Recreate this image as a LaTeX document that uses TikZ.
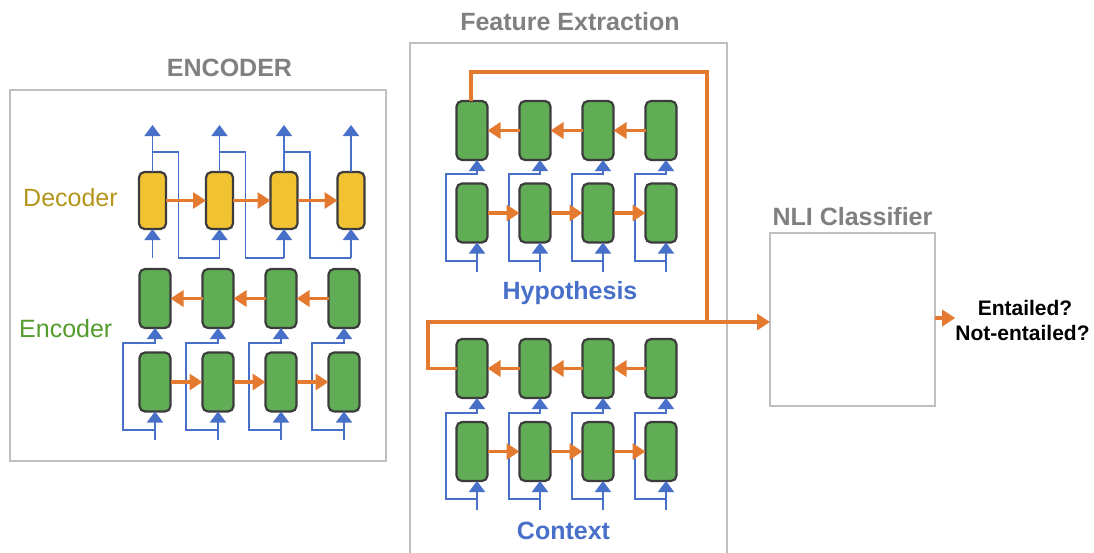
\documentclass[tikz,border=0pt]{standalone}
\usepackage{fontspec}
\setmainfont{Liberation Sans}
\usetikzlibrary{arrows.meta}
\definecolor{cgreen}{RGB}{96,173,86}
\definecolor{cyellow}{RGB}{241,194,50}
\definecolor{cborder}{RGB}{60,60,60}
\definecolor{corange}{RGB}{228,122,47}
\definecolor{cblue}{RGB}{72,112,200}
\definecolor{cgray}{RGB}{128,128,128}
\definecolor{cbox}{RGB}{191,191,191}
\definecolor{cgold}{RGB}{181,149,27}
\definecolor{cgreentxt}{RGB}{84,156,44}
\begin{document}
\begin{tikzpicture}[x=1pt,y=-1pt,
  cellg/.style={draw=cborder, line width=2.2pt, fill=cgreen, rounded corners=5.5pt,
    minimum width=31pt, minimum height=59pt, inner sep=0pt, outer sep=0pt},
  celly/.style={cellg, fill=cyellow, minimum width=27pt, minimum height=57pt},
  oarr/.style={draw=corange, line width=3.8pt, -{Triangle[width=16pt,length=13pt]}},
  oline/.style={draw=corange, line width=3.8pt},
  barr/.style={draw=cblue, line width=1.7pt, -{Triangle[width=16pt,length=11pt]}},
  frame/.style={draw=cbox, line width=1.5pt, inner sep=0pt, outer sep=0pt},
  title/.style={font=\fontsize{25}{30}\selectfont\bfseries, text=cgray, anchor=base, inner sep=0pt},
  lbl/.style={font=\fontsize{25}{30}\selectfont, anchor=base west, inner sep=0pt},
  sect/.style={font=\fontsize{25}{30}\selectfont\bfseries, text=cblue, anchor=base, inner sep=0pt},
  outt/.style={font=\fontsize{21}{25}\selectfont\bfseries, text=black, anchor=base, inner sep=0pt}
]
\useasboundingbox (0,0) rectangle (1094,552);
\clip (0,0) rectangle (1094,552);
\fill[white] (0,0) rectangle (1094,552);

% ---------------- frames and titles
\node[frame, minimum width=376pt, minimum height=371pt] (encbox) at (198,275.5) {};
\draw[frame] (410,560) -- (410,43) -- (727,43) -- (727,560);
\node[frame, minimum width=165pt, minimum height=173pt] (nli) at (852.5,319.5) {};

\node[title] (tenc) at (229.5,76) {ENCODER};
\node[title] (tfe) at (570,30) {Feature Extraction};
\node[title] (tnli) at (852.5,225) {NLI Classifier};

\node[lbl, text=cgold] (ldec) at (23,206) {Decoder};
\node[lbl, text=cgreentxt] (lenc) at (19,337) {Encoder};

\node[sect] (lhyp) at (570,299) {Hypothesis};
\node[sect] (lctx) at (563.5,539) {Context};

\node[outt] (out1) at (1025,315) {Entailed?};
\node[outt] (out2) at (1022.5,340) {Not-entailed?};

% ---------------- decoder
\foreach \i/\x in {1/152.5,2/219.5,3/284,4/351} {
  \node[celly] (d\i) at (\x,200.5) {};
  \coordinate (dout\i) at (\x,125);
  \coordinate (din\i) at (\x,258);
}
\foreach \i in {1,...,4} {
  \draw[barr] (d\i.north) -- (dout\i);
  \draw[barr] (din\i) -- (d\i.south);
}
\foreach \i/\j/\x in {1/2/152.5,2/3/219.5,3/4/284} {
  \coordinate (fb\i) at (\x,152);
  \draw[draw=cblue, line width=1.7pt] (fb\i) -- (\x+26,152) -- (\x+26,258) -- (din\j);
}
\foreach \i/\j in {1/2,2/3,3/4}
  \draw[oarr] (d\i.east) -- (d\j.west);

% ---------------- encoder
\foreach \i/\x in {1/155,2/218,3/281,4/344} {
  \node[cellg] (et\i) at (\x,298.5) {};
  \node[cellg] (eb\i) at (\x,382) {};
  \coordinate (ein\i) at (\x,440);
  \coordinate (esp\i) at (\x,430);
  \draw[barr] (ein\i) -- (eb\i.south);
  \draw[barr] (esp\i) -- (\x-32,430) -- (\x-32,343) -| (et\i.south);
}
\foreach \i/\j in {1/2,2/3,3/4} {
  \draw[oarr] (eb\i.east) -- (eb\j.west);
  \draw[oarr] (et\j.west) -- (et\i.east);
}

% ---------------- hypothesis
\foreach \i/\x in {1/472,2/535,3/598,4/661} {
  \node[cellg] (ht\i) at (\x,130.5) {};
  \node[cellg] (hb\i) at (\x,213) {};
  \coordinate (hin\i) at (\x+5,272);
  \coordinate (hsp\i) at (\x+5,261);
  \draw[barr] (hin\i) -- ([xshift=5pt]hb\i.south);
  \draw[barr] (hsp\i) -- (\x-26,261) -- (\x-26,174) -| ([xshift=5pt]ht\i.south);
}
\foreach \i/\j in {1/2,2/3,3/4} {
  \draw[oarr] (hb\i.east) -- (hb\j.west);
  \draw[oarr] (ht\j.west) -- (ht\i.east);
}

% ---------------- context
\foreach \i/\x in {1/472,2/535,3/598,4/661} {
  \node[cellg] (ct\i) at (\x,368.5) {};
  \node[cellg] (cb\i) at (\x,451.5) {};
  \coordinate (cin\i) at (\x+5,510);
  \coordinate (csp\i) at (\x+5,499);
  \draw[barr] (cin\i) -- ([xshift=5pt]cb\i.south);
  \draw[barr] (csp\i) -- (\x-26,499) -- (\x-26,413) -| ([xshift=5pt]ct\i.south);
}
\foreach \i/\j in {1/2,2/3,3/4} {
  \draw[oarr] (cb\i.east) -- (cb\j.west);
  \draw[oarr] (ct\j.west) -- (ct\i.east);
}

% ---------------- feature routing
\coordinate (J) at (707,322);
\draw[oline] ([xshift=-1pt]ht1.north) -- (471,72) -- (707,72) -- (J);
\draw[oarr] (J) -- (nli.west |- J);
\draw[oline] (J) -- (428,322) -- (428,368.5) -- (ct1.west);
\draw[oarr] ([yshift=1.5pt]nli.east) -- ([yshift=1.5pt]out2.west |- nli.east);
\end{tikzpicture}
\end{document}
